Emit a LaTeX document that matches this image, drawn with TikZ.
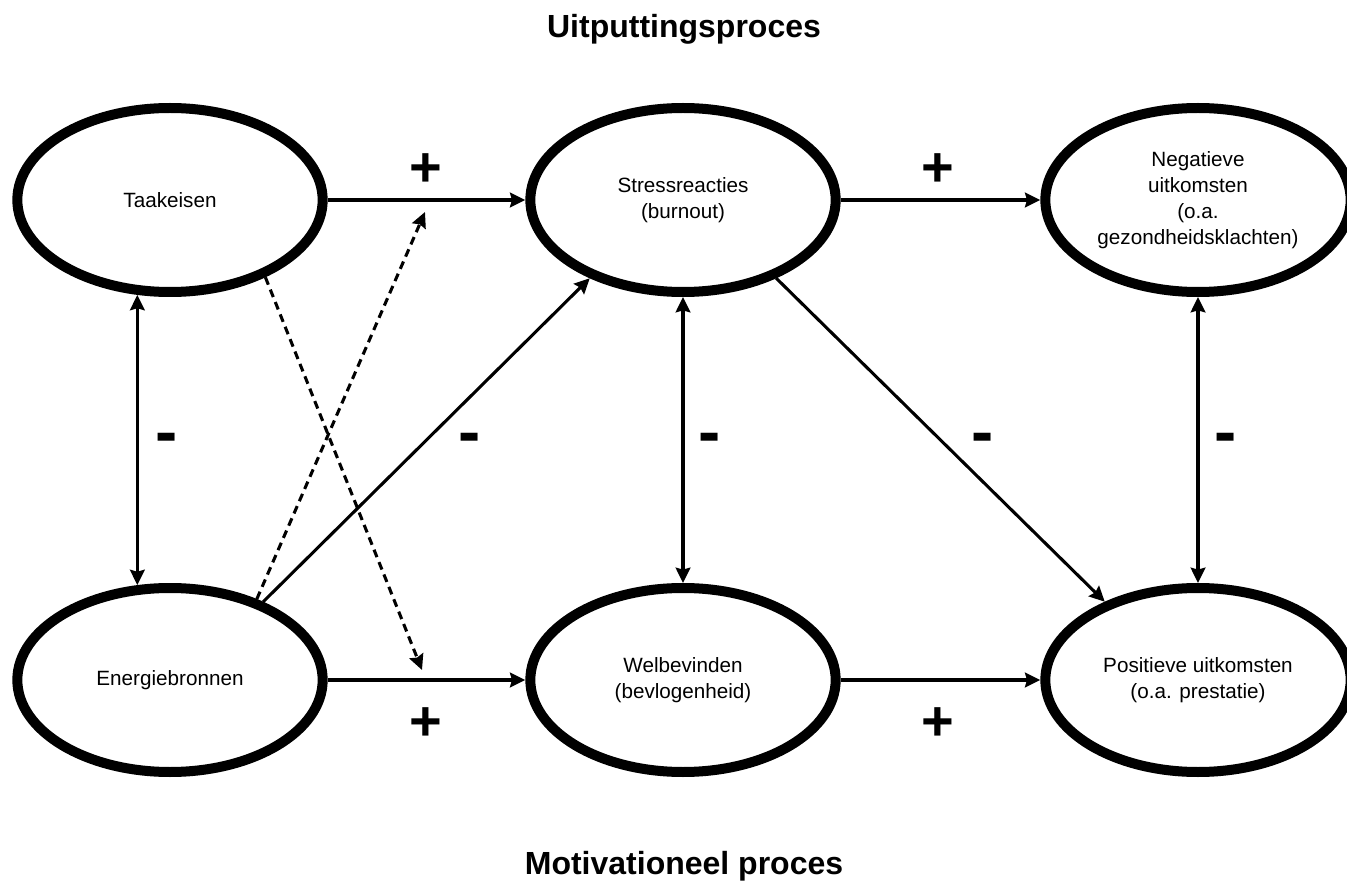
\documentclass[tikz,border=0pt]{standalone}
\usepackage{fontspec}
\setmainfont{Liberation Sans}
\usetikzlibrary{arrows.meta,shapes.geometric}

\begin{document}
\begin{tikzpicture}[x=0.75pt,y=-0.75pt,
  blob/.style={draw, ellipse, line width=7.5pt, minimum width=229pt, minimum height=138pt, inner sep=0pt, align=center, font=\fontsize{15.5}{19.5}\selectfont},
  link/.style={line width=2.3pt, -{Stealth[length=11.5pt,width=11pt,inset=1.5pt]}},
  twoway/.style={line width=2.3pt, {Stealth[length=11.5pt,width=11pt,inset=1.5pt]}-{Stealth[length=11.5pt,width=11pt,inset=1.5pt]}},
  plusmark/.style={anchor=base, inner sep=0pt, font=\fontsize{42}{42}\selectfont\bfseries},
  minusmark/.style={anchor=base, inner sep=0pt, font=\fontsize{50}{50}\selectfont\bfseries},
  title/.style={anchor=base, inner sep=0pt, font=\fontsize{24}{24}\selectfont\bfseries}]
\useasboundingbox (0,0) rectangle (1347,884);

\node[title] (uitput) at (684,38) {Uitputtingsproces};
\node[title] (motiv) at (684,874) {Motivationeel proces};

\node[blob] (taak) at (170,200) {Taakeisen};
\node[blob] (stress) at (683,200) {Stressreacties\\(burnout)};
\node[blob] (neg) at (1198,200) {Negatieve\\uitkomsten\\(o.a.\\gezondheidsklachten)};
\node[blob] (energie) at (170,680) {Energiebronnen};
\node[blob] (wel) at (683,680) {Welbevinden\\(bevlogenheid)};
\node[blob] (pos) at (1198,680) {Positieve uitkomsten\\(o.a. prestatie)};

\coordinate (dashtop) at (425,212);
\coordinate (dashbot) at (422,670);

% horizontal paths
\draw[link] (taak) -- (stress);
\draw[link] (stress) -- (neg);
\draw[link] (energie) -- (wel);
\draw[link] (wel) -- (pos);

% vertical paths
\draw[twoway] (taak.251) -- (energie.109);
\draw[twoway] (stress) -- (wel);
\draw[twoway] (neg) -- (pos);

% diagonals
\draw[link] (energie.40) -- (stress.220);
\draw[link] (stress.320) -- (pos.140);
\draw[link, dash pattern=on 6pt off 4pt] (taak.321) -- (dashbot);
\draw[link, dash pattern=on 6pt off 4pt] (energie.43) -- (dashtop);

\node[plusmark] (p1) at (426,187) {+};
\node[plusmark] (p2) at (938,187) {+};
\node[plusmark] (p3) at (426,740) {+};
\node[plusmark] (p4) at (938,740) {+};

\node[minusmark] (m1) at (167,455) {-};
\node[minusmark] (m2) at (470,455) {-};
\node[minusmark] (m3) at (710,455) {-};
\node[minusmark] (m4) at (983,455) {-};
\node[minusmark] (m5) at (1226,455) {-};
\end{tikzpicture}
\end{document}
